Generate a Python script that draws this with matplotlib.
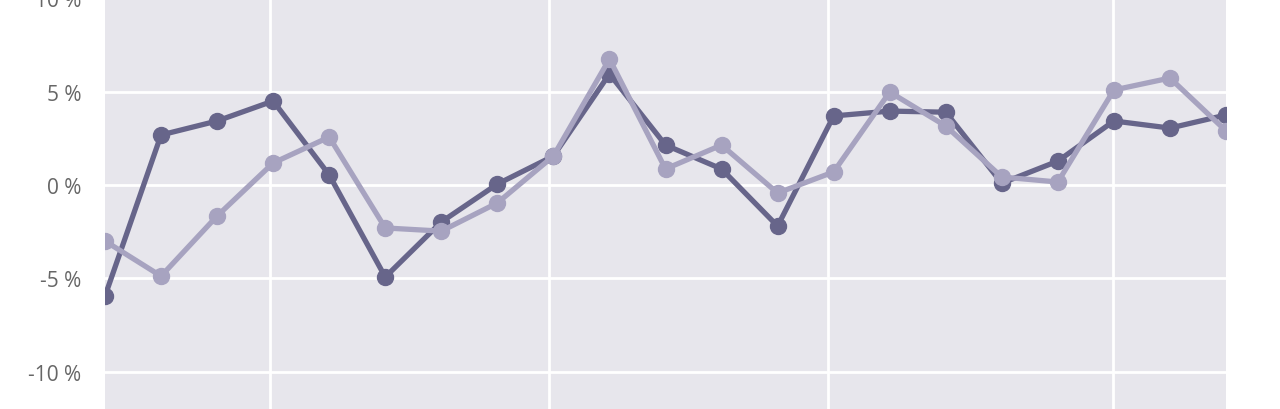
import numpy as np
import matplotlib.pyplot as plt

plt.rcParams['font.family'] = ['Open Sans', 'DejaVu Sans']

# values in percent, one per period
series_dark = [-5.95, 2.68, 3.43, 4.5, 0.54, -4.93, -1.98, 0.05, 1.55, 5.95,
               2.14, 0.86, -2.2, 3.7, 3.96, 3.9, 0.1, 1.28, 3.43, 3.05, 3.75]
series_light = [-3.0, -4.88, -1.66, 1.18, 2.57, -2.3, -2.47, -0.96, 1.55, 6.75,
                0.86, 2.14, -0.43, 0.7, 4.98, 3.16, 0.43, 0.16, 5.09, 5.73, 2.9]
y_ticks = [-10, -5, 0, 5, 10]
x_grid = [2.95, 7.93, 12.9, 17.98]

x = np.arange(len(series_dark))

fig = plt.figure(figsize=(12.8, 4.1), dpi=100)
# axes reach past the figure edges (the reference is cropped top and bottom)
ax = fig.add_axes([105 / 1280, -0.0456, 1121 / 1280, 1.1383])
ax.set_facecolor('#e7e6ec')

ax.plot(x, series_dark, color='#67658a', lw=3.8, marker='o', ms=11.5,
        solid_joinstyle='round', zorder=3)
ax.plot(x, series_light, color='#a7a3c0', lw=3.8, marker='o', ms=11.5,
        solid_joinstyle='round', zorder=4)

ax.set_xlim(0, 20)
ax.set_ylim(-13, 12)
ax.set_xticks(x_grid)
ax.set_xticklabels([])
ax.set_yticks(y_ticks)
ax.set_yticklabels(['%d %%' % v for v in y_ticks])
ax.tick_params(length=0, pad=17, labelsize=15, labelcolor='#666666')
ax.grid(True, color='white', lw=2)
ax.set_axisbelow(True)
for s in ax.spines.values():
    s.set_visible(False)

fig.savefig('out.png', dpi=100)
